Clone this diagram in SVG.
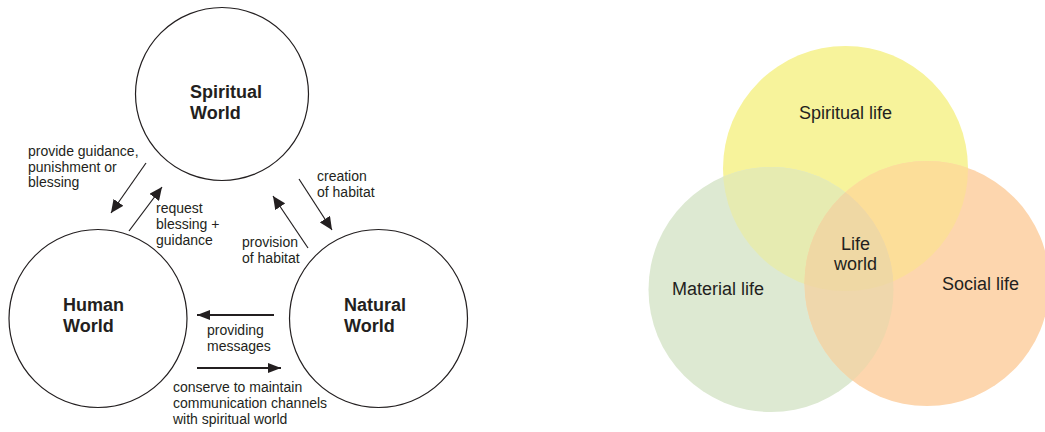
<svg xmlns="http://www.w3.org/2000/svg" width="1045" height="432" viewBox="0 0 1045 432">
<style>
.world{fill:#fff;stroke:#231f20;stroke-width:1.2}
.title{font-family:"Liberation Sans",Arial,sans-serif;font-weight:bold;font-size:18px;fill:#231f20}
.lbl{font-family:"Liberation Sans",Arial,sans-serif;font-size:14px;fill:#231f20}
.vlbl{font-family:"Liberation Sans",Arial,sans-serif;font-size:18px;fill:#231f20}
.thin{stroke:#231f20;stroke-width:1.2;fill:none;marker-end:url(#ah)}
.thick{stroke:#231f20;stroke-width:2.2;fill:none;marker-end:url(#ah2)}
</style>
<defs>
<marker id="ah" markerUnits="userSpaceOnUse" markerWidth="14" markerHeight="12" refX="13" refY="6" orient="auto">
<path d="M0,0 L13,6 L0,12 z" fill="#231f20"/>
</marker>
<marker id="ah2" markerUnits="userSpaceOnUse" markerWidth="14" markerHeight="12" refX="13" refY="6" orient="auto">
<path d="M0,1 L13,6 L0,11 z" fill="#231f20"/>
</marker>
<clipPath id="cy"><circle cx="845.5" cy="168.5" r="122.5"/></clipPath>
<clipPath id="cg"><circle cx="771" cy="289.5" r="122.5"/></clipPath>
</defs>

<g id="spiritual-world">
<circle class="world" cx="222" cy="94" r="86.5"/>
<text class="title" x="190" y="98">Spiritual</text>
<text class="title" x="190" y="119">World</text>
</g>
<g id="human-world">
<circle class="world" cx="98" cy="318.5" r="89"/>
<text class="title" x="63" y="311">Human</text>
<text class="title" x="63" y="332">World</text>
</g>
<g id="natural-world">
<circle class="world" cx="378.5" cy="318.5" r="89"/>
<text class="title" x="344" y="311">Natural</text>
<text class="title" x="344" y="332">World</text>
</g>

<g id="connectors">
<line class="thin" x1="146" y1="163" x2="111" y2="213"/>
<line class="thin" x1="129" y1="231" x2="162" y2="187"/>
<line class="thin" x1="299" y1="179" x2="332" y2="230"/>
<line class="thin" x1="308" y1="248" x2="273" y2="196"/>
<line class="thick" x1="274" y1="315" x2="197" y2="315"/>
<line class="thick" x1="197" y1="368" x2="281" y2="368"/>
</g>

<g id="connector-labels">
<text class="lbl" x="28" y="156">provide guidance,</text>
<text class="lbl" x="28" y="171.5">punishment or</text>
<text class="lbl" x="28" y="187">blessing</text>
<text class="lbl" x="156" y="213">request</text>
<text class="lbl" x="156" y="229">blessing +</text>
<text class="lbl" x="156" y="245">guidance</text>
<text class="lbl" x="317" y="181">creation</text>
<text class="lbl" x="317" y="196.5">of habitat</text>
<text class="lbl" x="242" y="247">provision</text>
<text class="lbl" x="242" y="262.5">of habitat</text>
<text class="lbl" x="207" y="335">providing</text>
<text class="lbl" x="207" y="350.5">messages</text>
<text class="lbl" x="173" y="392">conserve to maintain</text>
<text class="lbl" x="173" y="408">communication channels</text>
<text class="lbl" x="173" y="424">with spiritual world</text>
</g>

<g id="venn">
<circle id="spiritual-life" cx="845.5" cy="168.5" r="122.5" fill="#f7f39b"/>
<circle id="material-life" cx="771" cy="289.5" r="122.5" fill="#dde9d2"/>
<circle id="social-life" cx="927" cy="283.5" r="122.5" fill="#fdd6ae"/>
<circle cx="771" cy="289.5" r="122.5" fill="#e6ebb1" clip-path="url(#cy)"/>
<circle cx="927" cy="283.5" r="122.5" fill="#fcde99" clip-path="url(#cy)"/>
<circle cx="927" cy="283.5" r="122.5" fill="#efd7ac" clip-path="url(#cg)"/>
<g clip-path="url(#cy)"><circle cx="927" cy="283.5" r="122.5" fill="#efd8a4" clip-path="url(#cg)"/></g>
<text class="vlbl" x="845.5" y="119" text-anchor="middle">Spiritual life</text>
<text class="vlbl" x="672" y="295">Material life</text>
<text class="vlbl" x="942" y="290">Social life</text>
<text class="vlbl" x="855.5" y="250" text-anchor="middle">Life</text>
<text class="vlbl" x="855.5" y="269.5" text-anchor="middle">world</text>
</g>
</svg>
